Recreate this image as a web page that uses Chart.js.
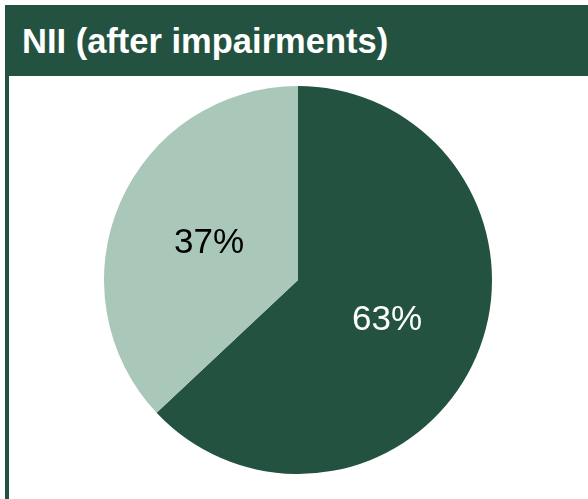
<!DOCTYPE html>
<html>
<head>
<meta charset="utf-8">
<script src="https://cdn.jsdelivr.net/npm/chart.js@4/dist/chart.umd.min.js"></script>
<style>
  body { margin: 0; background: #fff; width: 588px; height: 499px; overflow: hidden; position: relative; }
  #cabecalho {
    position: absolute; left: 5px; top: 5px; width: 583px; height: 71px;
    background: #235340; color: #fff;
    font: bold 34.5px "Liberation Sans", Arial, sans-serif;
    line-height: 72px; padding-left: 17px; box-sizing: border-box; white-space: nowrap;
  }
  #borda { position: absolute; left: 5px; top: 76px; width: 4px; height: 423px; background: #235340; }
  #area { position: absolute; left: 104px; top: 86px; width: 388px; height: 388px; }
</style>
</head>
<body>
<div id="cabecalho">NII (after impairments)</div>
<div id="borda"></div>
<div id="area"><canvas id="grafico"></canvas></div>
<script>
// Dados do gráfico
const categorias = ['NII', 'Outros'];
const valores = [63, 37];
const rotulos = ['63%', '37%'];
const cores = ['#235340', '#aac8ba'];
const coresTexto = ['#ffffff', '#000000'];

// Plugin simples para escrever os percentuais dentro das fatias
const rotulosFatias = {
  id: 'rotulosFatias',
  afterDatasetsDraw(chart) {
    const ctx = chart.ctx;
    chart.getDatasetMeta(0).data.forEach((arco, i) => {
      const pos = arco.tooltipPosition();
      ctx.save();
      ctx.font = '35px "Liberation Sans", Arial, sans-serif';
      ctx.fillStyle = coresTexto[i];
      ctx.textAlign = 'center';
      ctx.textBaseline = 'middle';
      ctx.fillText(rotulos[i], pos.x, pos.y + 2);
      ctx.restore();
    });
  }
};

new Chart(document.getElementById('grafico'), {
  type: 'pie',
  data: {
    labels: categorias,
    datasets: [{
      data: valores,
      backgroundColor: cores,
      borderWidth: 0
    }]
  },
  options: {
    responsive: true,
    maintainAspectRatio: false,
    animation: false,
    layout: { padding: 0 },
    plugins: {
      legend: { display: false },
      tooltip: { enabled: false }
    }
  },
  plugins: [rotulosFatias]
});
</script>
</body>
</html>
